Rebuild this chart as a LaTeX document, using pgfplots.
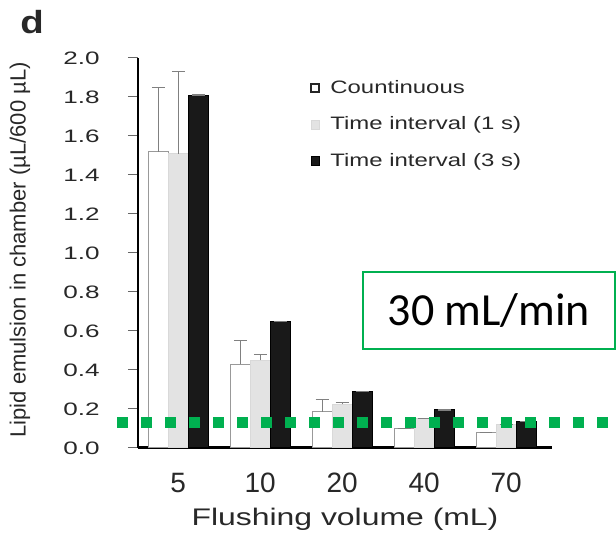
\documentclass[border=0pt]{standalone}
\usepackage{pgfplots}
\pgfplotsset{compat=1.18}
\usepackage{graphicx}
\usepackage{fontspec}
\setmainfont{Liberation Sans}
\newfontfamily\calib{Carlito}
\definecolor{offgreen}{RGB}{0,176,80}
\definecolor{txt}{RGB}{40,40,40}
\newcommand\sx[1]{\scalebox{1.33}[1]{#1}}
\begin{document}
\begin{tikzpicture}
\useasboundingbox (-69pt,-45.5pt) rectangle (239pt,224pt);
\begin{axis}[
  scale only axis,
  width=207pt, height=195pt,
  xmin=-0.49, xmax=4.56,
  ymin=0, ymax=2.0,
  axis lines=left,
  axis line style={-, black, line width=1pt},
  x axis line style={line width=1.5pt},
  clip=false,
  ybar=0pt,
  bar width=0.244,
  xtick={0,1,2,3,4},
  xticklabels={5,10,20,40,70},
  xtick style={draw=none},
  xticklabel style={anchor=center, yshift=-12.5pt, font=\fontsize{14}{16}\selectfont, text=txt},
  ytick={0,0.2,...,2.0},
  yticklabel style={/pgf/number format/.cd, fixed, fixed zerofill, precision=1, /tikz/.cd, font=\fontsize{9}{10}\selectfont, text=txt, xshift=-9pt, xscale=1.45},
  /pgf/number format/assume math mode=true,
  tick align=outside,
  major tick length=5pt,
  ytick style={black!60, line width=0.5pt},
  xlabel={Flushing volume (mL)},
  xlabel style={at={(axis description cs:0.5,-0.183)}, anchor=center, font=\fontsize{12}{14}\selectfont, text=txt, xscale=1.33},
  ylabel={Lipid emulsion in chamber (\textmu L/600 \textmu L)},
  ylabel style={at={(axis description cs:-0.285,0.508)}, anchor=center, font=\fontsize{11}{13}\selectfont, text=txt},
  legend style={draw=none, fill=none, at={(axis description cs:0.40,0.965)}, anchor=north west, font=\fontsize{9}{11}\selectfont, text=txt, row sep=6.3pt, /tikz/every odd column/.append style={column sep=3pt}},
  legend cell align=left,
  legend image code/.code={\draw[#1] (0pt,-2.2pt) rectangle (4.4pt,2.2pt);},
  error bars/y dir=plus,
  error bars/y explicit,
  error bars/error bar style={gray, line width=0.6pt},
  error bars/error mark options={rotate=90, gray, mark size=3.2pt, line width=0.6pt},
]
\addplot[fill=white, draw=gray!80, line width=0.5pt,
  legend image code/.code={\draw[fill=white, draw=black!85, line width=1pt] (0pt,-2pt) rectangle (4.2pt,2pt);}] coordinates {
  (0,1.52) +- (0,0.33)
  (1,0.43) +- (0,0.12)
  (2,0.185) +- (0,0.065)
  (3,0.10) +- (0,0)
  (4,0.08) +- (0,0)
};
\addplot[fill=gray!22, draw=gray!30, line width=0.5pt] coordinates {
  (0,1.51) +- (0,0.42)
  (1,0.45) +- (0,0.03)
  (2,0.225) +- (0,0.01)
  (3,0.15) +- (0,0)
  (4,0.12) +- (0,0)
};
\addplot[fill=black!90, draw=black, line width=0.5pt] coordinates {
  (0,1.81) +- (0,0)
  (1,0.65) +- (0,0)
  (2,0.29) +- (0,0)
  (3,0.195) +- (0,0)
  (4,0.135) +- (0,0)
};
\legend{\sx{Countinuous}, \sx{Time interval (1 s)}, \sx{Time interval (3 s)}}
\addplot[sharp plot, forget plot, no marks, draw=offgreen, line width=5.5pt, dash pattern=on 5.5pt off 6.5pt] coordinates {(-0.745,0.13) (5.34,0.13)};
\node[draw=offgreen, line width=0.8pt, fill=white, minimum width=126pt, minimum height=38.5pt, inner sep=0pt, font=\calib\fontsize{23}{26}\selectfont] at (axis cs:3.79,0.705) {30 mL/min};
\end{axis}
\node[font=\bfseries\fontsize{16}{18}\selectfont, text=txt, xscale=1.2] at (-53pt,213pt) {d};
\end{tikzpicture}
\end{document}
